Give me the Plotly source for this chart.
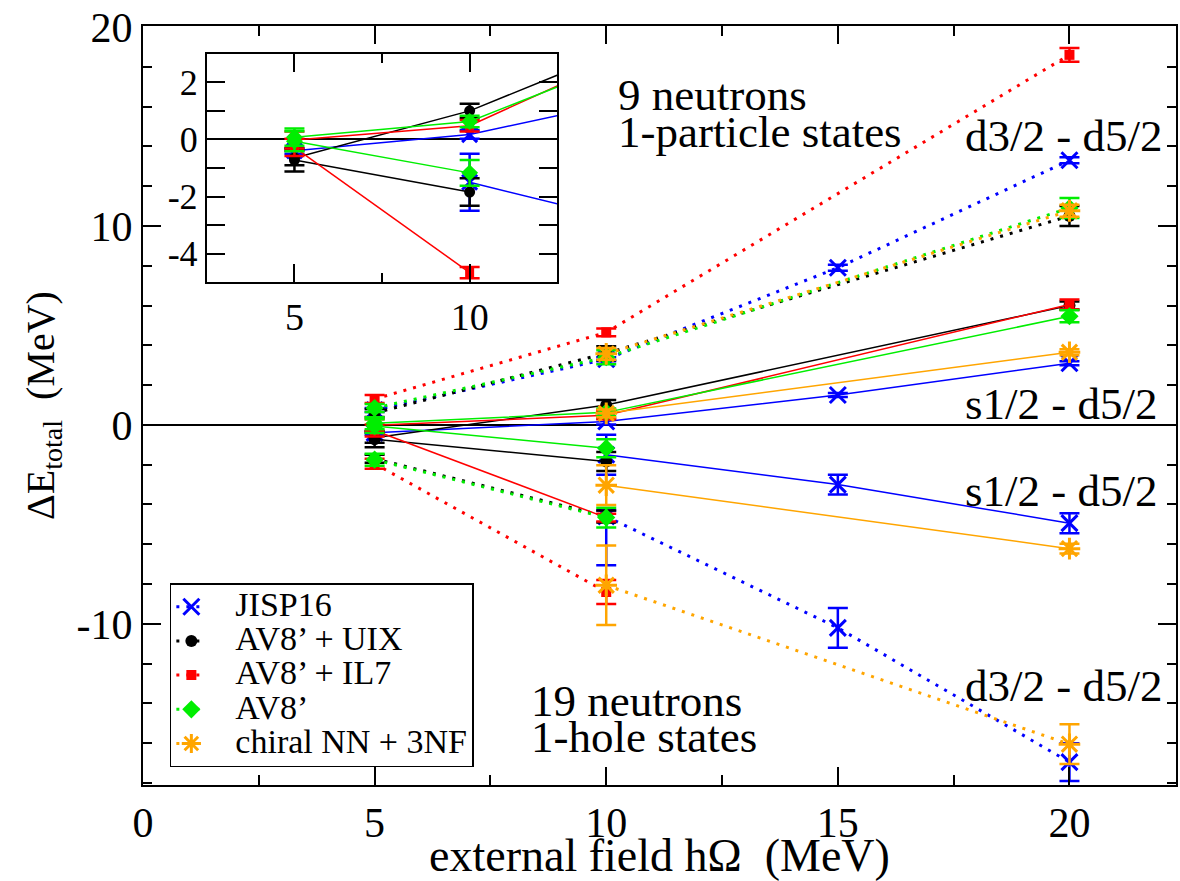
import plotly.graph_objects as go

FONT = "Liberation Serif, Times New Roman, serif"

# ---------------- data (hOmega in MeV, Delta E in MeV) ----------------
# JISP16
jisp_x_part = [5, 10, 15, 20]
jisp_p_d32 = [0.75, 3.3, 7.9, 13.3]
jisp_p_d32_err = [0.1, 0.1, 0.15, 0.15]
jisp_p_s12 = [-0.4, 0.17, 1.5, 3.1]
jisp_p_s12_err = [0.1, 0.15, 0.1, 0.1]
jisp_x_hole = [10, 15, 20]
jisp_h_s12 = [-1.5, -3.0, -4.94]
jisp_h_s12_err = [1.0, 0.5, 0.5]
jisp_h_d32 = [-4.6, -10.2, -16.95]
jisp_h_d32_errp = [0.3, 1.0, 0.95]
jisp_h_d32_errm = [2.45, 1.0, 0.95]

# AV8' + UIX
uix_x_part = [5, 10, 20]
uix_p_d32 = [0.6, 3.6, 10.5]
uix_p_d32_err = [0.2, 0.35, 0.5]
uix_p_s12 = [-0.65, 1.0, 6.0]
uix_p_s12_err = [0.25, 0.25, 0.2]
uix_x_hole = [5, 10]
uix_h_s12 = [-0.72, -1.84]
uix_h_s12_err = [0.4, 0.48]
uix_h_d32 = [-1.7, -4.6]
uix_h_d32_err = [0.2, 0.3]

# AV8' + IL7
il7_x_part = [5, 10, 20]
il7_p_d32 = [1.3, 4.65, 18.6]
il7_p_d32_err = [0.2, 0.2, 0.35]
il7_p_s12 = [-0.02, 0.48, 6.05]
il7_p_s12_err = [0.3, 0.2, 0.25]
il7_x_hole = [5, 10]
il7_h_s12 = [-0.28, -4.66]
il7_h_s12_err = [0.3, 0.2]
il7_h_d32 = [-1.95, -8.4]
il7_h_d32_err = [0.25, 0.6]

# AV8'
av8_x_part = [5, 10, 20]
av8_p_d32 = [0.85, 3.4, 10.9]
av8_p_d32_err = [0.2, 0.35, 0.5]
av8_p_s12 = [0.08, 0.63, 5.46]
av8_p_s12_err = [0.3, 0.2, 0.3]
av8_x_hole = [5, 10]
av8_h_s12 = [-0.06, -1.17]
av8_h_s12_err = [0.35, 0.45]
av8_h_d32 = [-1.75, -4.66]
av8_h_d32_err = [0.3, 0.5]

# chiral NN + 3NF
chi_x = [10, 20]
chi_p_d32 = [3.57, 10.76]
chi_p_d32_err = [0.3, 0.3]
chi_p_s12 = [0.58, 3.65]
chi_p_s12_err = [0.2, 0.15]
chi_h_s12 = [-3.03, -6.22]
chi_h_s12_err = [1.0, 0.25]
chi_h_d32 = [-8.06, -16.05]
chi_h_d32_err = [2.0, 1.0]

# axis ticks
x_ticks = [0, 5, 10, 15, 20]
y_ticks = [-10, 0, 10, 20]
y_ticklabels = ["-10", "0", "10", "20"]
inset_x_ticks = [5, 10]
inset_y_ticks = [-4, -2, 0, 2]
inset_y_ticklabels = ["-4", "-2", "0", "2"]

models = [
    dict(name="JISP16", color="#0000ff", symbol="x-thin-open", size=16, mlw=3,
         states=[(jisp_x_part, jisp_p_d32, jisp_p_d32_err, None, "dot"),
                 (jisp_x_part, jisp_p_s12, jisp_p_s12_err, None, "solid"),
                 (jisp_x_hole, jisp_h_s12, jisp_h_s12_err, None, "solid"),
                 (jisp_x_hole, jisp_h_d32, jisp_h_d32_errp, jisp_h_d32_errm, "dot")]),
    dict(name="AV8\u2019 + UIX", color="#000000", symbol="circle", size=12, mlw=0,
         states=[(uix_x_part, uix_p_d32, uix_p_d32_err, None, "dot"),
                 (uix_x_part, uix_p_s12, uix_p_s12_err, None, "solid"),
                 (uix_x_hole, uix_h_s12, uix_h_s12_err, None, "solid"),
                 (uix_x_hole, uix_h_d32, uix_h_d32_err, None, "dot")]),
    dict(name="AV8\u2019 + IL7", color="#ff0000", symbol="square", size=10, mlw=0,
         states=[(il7_x_part, il7_p_d32, il7_p_d32_err, None, "dot"),
                 (il7_x_part, il7_p_s12, il7_p_s12_err, None, "solid"),
                 (il7_x_hole, il7_h_s12, il7_h_s12_err, None, "solid"),
                 (il7_x_hole, il7_h_d32, il7_h_d32_err, None, "dot")]),
    dict(name="AV8\u2019", color="#00ee00", symbol="diamond", size=14, mlw=0,
         states=[(av8_x_part, av8_p_d32, av8_p_d32_err, None, "dot"),
                 (av8_x_part, av8_p_s12, av8_p_s12_err, None, "solid"),
                 (av8_x_hole, av8_h_s12, av8_h_s12_err, None, "solid"),
                 (av8_x_hole, av8_h_d32, av8_h_d32_err, None, "dot")]),
    dict(name="chiral NN + 3NF", color="#ffa500", symbol="asterisk-open", size=18, mlw=3,
         states=[(chi_x, chi_p_d32, chi_p_d32_err, None, "dot"),
                 (chi_x, chi_p_s12, chi_p_s12_err, None, "solid"),
                 (chi_x, chi_h_s12, chi_h_s12_err, None, "solid"),
                 (chi_x, chi_h_d32, chi_h_d32_err, None, "dot")]),
]

DOT = "3px,7px"
LEG_TXT = '\u00a0\u00a0\u00a0\u00a0<span style="font-size:34px">%s</span>'

fig = go.Figure()

for m in models:
    for i, (xs, ys, ep, em, dash) in enumerate(m["states"]):
        err = dict(type="data", array=ep, visible=True, color=m["color"],
                   thickness=2.5, width=10)
        if em is not None:
            err["symmetric"] = False
            err["arrayminus"] = em
        fig.add_trace(go.Scatter(
            x=xs, y=ys, mode="lines+markers", name=LEG_TXT % m["name"],
            legendgroup=m["name"], showlegend=(i == 0),
            line=dict(color=m["color"], width=3 if dash == "dot" else 1.5,
                      dash=DOT if dash == "dot" else "solid"),
            marker=dict(symbol=m["symbol"], size=m["size"], color=m["color"],
                        line=dict(color=m["color"], width=m["mlw"])),
            error_y=err, xaxis="x", yaxis="y"))

# inset: s1/2 states of the first four models
for m in models[:4]:
    for (xs, ys, ep, em, dash) in m["states"][1:3]:
        fig.add_trace(go.Scatter(
            x=xs, y=ys, mode="lines+markers", showlegend=False,
            line=dict(color=m["color"], width=1.5),
            marker=dict(symbol=m["symbol"], size=m["size"] - 1, color=m["color"],
                        line=dict(color=m["color"], width=m["mlw"])),
            error_y=dict(type="data", array=ep, visible=True, color=m["color"],
                         thickness=2.5, width=10),
            xaxis="x2", yaxis="y2"))

axis_common = dict(showline=True, linecolor="black", linewidth=2, mirror="ticks",
                   ticks="inside", tickcolor="black", tickwidth=1.5,
                   showgrid=False, color="black")

fig.update_layout(
    width=1180, height=881,
    margin=dict(l=143, r=2, t=26, b=88),
    paper_bgcolor="white", plot_bgcolor="white",
    font=dict(family=FONT, color="black"),
    xaxis=dict(**axis_common, range=[0, 22.3], tickvals=x_ticks, ticklen=18,
               minor=dict(ticks="inside", ticklen=10, dtick=2.5, tickcolor="black", tickwidth=1.5),
               zeroline=False, tickfont=dict(size=42, family=FONT),
               title=dict(text="external field h\u03a9\u00a0\u00a0(MeV)",
                          font=dict(size=46, family=FONT), standoff=0)),
    yaxis=dict(**axis_common, range=[-18.1, 20.05], tickvals=y_ticks, ticktext=y_ticklabels,
               ticklen=18,
               minor=dict(ticks="inside", ticklen=9, dtick=2, tickcolor="black", tickwidth=1.5),
               zeroline=True, zerolinecolor="black", zerolinewidth=1.5,
               tickfont=dict(size=42, family=FONT),
               title=dict(text="\u0394E<sub>total</sub>\u00a0\u00a0(MeV)",
                          font=dict(size=40, family=FONT), standoff=10)),
    xaxis2=dict(**axis_common, domain=[0.0618, 0.401], anchor="y2", range=[2.5, 12.5],
                tickvals=inset_x_ticks, ticklen=18,
                minor=dict(ticks="inside", ticklen=9, dtick=2.5, tickcolor="black", tickwidth=1.5),
                zeroline=False, tickfont=dict(size=38, family=FONT)),
    yaxis2=dict(**axis_common, domain=[0.6623, 0.9635], anchor="x2", range=[-5, 3],
                tickvals=inset_y_ticks, ticktext=inset_y_ticklabels, ticklen=18,
                minor=dict(ticks="inside", ticklen=18, dtick=1, tickcolor="black", tickwidth=1.5),
                zeroline=True, zerolinecolor="black", zerolinewidth=1.5,
                tickfont=dict(size=36, family=FONT)),
    legend=dict(x=0.026, y=0.266, xanchor="left", yanchor="top",
                bgcolor="white", bordercolor="black", borderwidth=1.5,
                font=dict(size=24, family=FONT, color="black"),
                tracegroupgap=0, itemwidth=30),
    showlegend=True,
)

ann_font = dict(size=45, family=FONT, color="black")
labels = [
    ("9 neutrons", 10.22, 16.6),
    ("1-particle states", 10.22, 14.7),
    ("d3/2 - d5/2", 17.7, 14.5),
    ("s1/2 - d5/2", 17.7, 1.05),
    ("s1/2 - d5/2", 17.7, -3.3),
    ("19 neutrons", 8.34, -13.9),
    ("1-hole states", 8.34, -15.7),
    ("d3/2 - d5/2", 17.7, -13.1),
]
for txt, xx, yy in labels:
    fig.add_annotation(text=txt, x=xx, y=yy, xref="x", yref="y",
                       xanchor="left", yanchor="middle", showarrow=False, font=ann_font)

fig.write_html("out.html")
